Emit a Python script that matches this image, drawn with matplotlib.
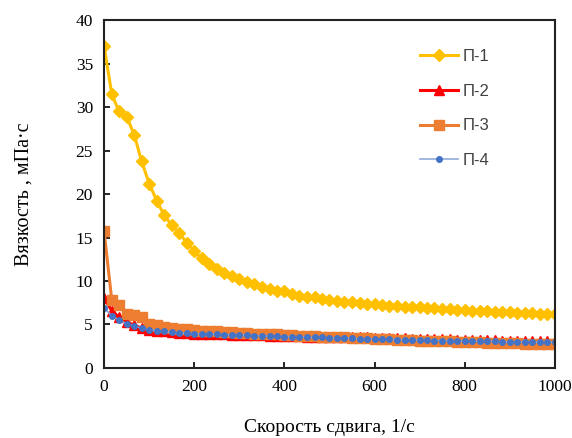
import matplotlib
matplotlib.use("Agg")
import matplotlib.pyplot as plt

# shear rate, 1/s
shear = [0, 17, 33, 50, 67, 83, 100, 117, 133, 150, 167, 183, 200, 217, 233, 250,
         267, 283, 300, 317, 333, 350, 367, 383, 400, 417, 433, 450, 467, 483, 500,
         517, 533, 550, 567, 583, 600, 617, 633, 650, 667, 683, 700, 717, 733, 750,
         767, 783, 800, 817, 833, 850, 867, 883, 900, 917, 933, 950, 967, 983, 1000]

# viscosity, mPa*s
p1 = [37.0, 31.5, 29.5, 28.9, 26.8, 23.8, 21.2, 19.2, 17.6, 16.4, 15.5, 14.4, 13.4,
      12.6, 12.0, 11.4, 10.9, 10.6, 10.2, 9.9, 9.6, 9.3, 9.1, 8.9, 8.9, 8.5, 8.3,
      8.2, 8.1, 7.9, 7.8, 7.7, 7.6, 7.55, 7.45, 7.35, 7.3, 7.2, 7.15, 7.1, 7.05,
      7.0, 6.95, 6.9, 6.85, 6.8, 6.75, 6.7, 6.65, 6.6, 6.55, 6.5, 6.45, 6.4, 6.4,
      6.35, 6.3, 6.3, 6.25, 6.2, 6.15]
p2 = [8.0, 6.6, 5.8, 5.3, 4.9, 4.6, 4.4, 4.3, 4.2, 4.1, 4.0, 4.0, 3.95, 3.9, 3.9,
      3.85, 3.85, 3.8, 3.8, 3.8, 3.75, 3.75, 3.7, 3.7, 3.7, 3.65, 3.65, 3.6, 3.6,
      3.6, 3.55, 3.55, 3.55, 3.5, 3.5, 3.5, 3.45, 3.45, 3.4, 3.4, 3.4, 3.35, 3.35,
      3.35, 3.3, 3.3, 3.3, 3.25, 3.25, 3.25, 3.2, 3.2, 3.2, 3.15, 3.15, 3.15, 3.1,
      3.1, 3.1, 3.1, 3.05]
p3 = [15.7, 7.8, 7.2, 6.2, 6.1, 5.9, 5.1, 4.9, 4.7, 4.6, 4.5, 4.5, 4.4, 4.3, 4.3,
      4.2, 4.15, 4.1, 4.05, 4.0, 3.95, 3.9, 3.9, 3.85, 3.8, 3.75, 3.7, 3.7, 3.65,
      3.6, 3.55, 3.5, 3.5, 3.45, 3.4, 3.4, 3.35, 3.3, 3.3, 3.25, 3.2, 3.2, 3.15,
      3.1, 3.1, 3.05, 3.05, 3.0, 3.0, 2.95, 2.95, 2.9, 2.9, 2.9, 2.85, 2.85, 2.8,
      2.8, 2.8, 2.75, 2.75]
p4 = [6.9, 6.0, 5.5, 5.1, 4.8, 4.6, 4.4, 4.3, 4.2, 4.1, 4.0, 4.0, 3.95, 3.9, 3.9,
      3.85, 3.8, 3.8, 3.75, 3.75, 3.7, 3.7, 3.65, 3.65, 3.6, 3.6, 3.55, 3.55, 3.5,
      3.5, 3.45, 3.45, 3.4, 3.4, 3.35, 3.35, 3.3, 3.3, 3.3, 3.25, 3.25, 3.2, 3.2,
      3.2, 3.15, 3.15, 3.1, 3.1, 3.1, 3.1, 3.05, 3.05, 3.05, 3.0, 3.0, 3.0, 3.0,
      2.95, 2.95, 2.95, 2.95]

fig = plt.figure(figsize=(5.72, 4.38), dpi=100)
ax = fig.add_axes([0.182, 0.160, 0.788, 0.794])

ax.plot(shear, p1, color='#FFC000', lw=2.2, marker='D', ms=6.3, label='П-1')
ax.plot(shear, p2, color='#FF0000', lw=2.2, marker='^', ms=7, label='П-2')
ax.plot(shear, p3, color='#ED7D31', lw=2.2, marker='s', ms=7.5, label='П-3')
ax.plot(shear, p4, color='#8FAADC', lw=1.2, marker='o', ms=4,
        mfc='#4472C4', mec='#4472C4', label='П-4')

ax.set_xlim(0, 1000)
ax.set_ylim(0, 40)
ax.set_xticks([0, 200, 400, 600, 800, 1000])
ax.set_yticks(range(0, 41, 5))
ax.tick_params(direction='in', length=4, width=1.2, labelsize=12.5, pad=8)
for lab in ax.get_xticklabels() + ax.get_yticklabels():
    lab.set_family('Liberation Serif')
for s in ax.spines.values():
    s.set_linewidth(1.5)
    s.set_color('#222222')

ax.set_xlabel('Скорость сдвига, 1/с', family='Liberation Serif', fontsize=14, labelpad=17)
ax.set_ylabel('Вязкость , мПа·с', family='Liberation Serif', fontsize=14.5, labelpad=30)

leg = ax.legend(loc='upper left', bbox_to_anchor=(0.70, 0.917), frameon=False,
                borderpad=0, borderaxespad=0,
                labelspacing=1.18, handlelength=2.3, handletextpad=0.3,
                prop={'family': 'Liberation Sans', 'size': 12})
for t in leg.get_texts():
    t.set_color('#404040')

fig.savefig('out.png', dpi=100)
